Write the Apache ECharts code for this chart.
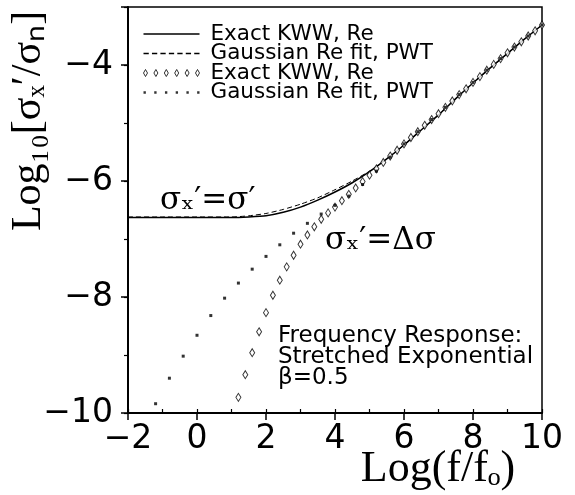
<!DOCTYPE html>
<html><head><meta charset="utf-8">
<script src="https://cdn.jsdelivr.net/npm/echarts/dist/echarts.min.js"></script>
<style>html,body{margin:0;padding:0;background:#fff}#c{width:575px;height:495px}</style>
</head><body><div id="c"></div>
<script>
// ---- data ----
const xLine = [-2, -1, 0, 1, 1.5, 2, 2.5, 3, 3.5, 4, 4.5, 5, 5.5, 6, 6.5, 7, 7.5, 8, 8.5, 9, 9.5, 10];
const exactKwwRe = [-6.63, -6.63, -6.63, -6.63, -6.62, -6.60, -6.54, -6.45, -6.33, -6.19, -6.03, -5.84, -5.62, -5.38, -5.12, -4.86, -4.58, -4.31, -4.05, -3.80, -3.55, -3.31];
const gaussFitRe = [-6.62, -6.62, -6.62, -6.62, -6.60, -6.56, -6.49, -6.40, -6.29, -6.15, -6.00, -5.83, -5.62, -5.38, -5.12, -4.86, -4.58, -4.31, -4.05, -3.80, -3.55, -3.31];

const xDiamond = [1.2, 1.4, 1.6, 1.8, 2.0, 2.2, 2.4, 2.6, 2.8, 3.0, 3.2, 3.4, 3.6, 3.8, 4.0, 4.2, 4.4, 4.6, 4.8, 5.0, 5.2, 5.4, 5.6, 5.8, 6.0, 6.2, 6.4, 6.6, 6.8, 7.0, 7.2, 7.4, 7.6, 7.8, 8.0, 8.2, 8.4, 8.6, 8.8, 9.0, 9.2, 9.4, 9.6, 9.8, 10.0];
const exactKwwDelta = [-9.73, -9.34, -8.96, -8.60, -8.27, -7.97, -7.71, -7.48, -7.28, -7.09, -6.93, -6.79, -6.66, -6.55, -6.45, -6.34, -6.23, -6.12, -6.01, -5.90, -5.79, -5.68, -5.57, -5.47, -5.36, -5.25, -5.15, -5.04, -4.94, -4.84, -4.73, -4.62, -4.51, -4.41, -4.30, -4.20, -4.09, -3.99, -3.89, -3.79, -3.69, -3.60, -3.50, -3.41, -3.31];

const xDot = [-1.2, -0.8, -0.4, 0.0, 0.4, 0.8, 1.2, 1.6, 2.0, 2.4, 2.8, 3.2, 3.6, 4.0, 4.4, 4.8, 5.2, 5.6, 6.0, 6.4, 6.8, 7.2, 7.6, 8.0, 8.4, 8.8, 9.2, 9.6, 10.0];
const gaussFitDelta = [-9.84, -9.40, -9.02, -8.66, -8.32, -8.02, -7.76, -7.52, -7.30, -7.10, -6.90, -6.73, -6.57, -6.42, -6.26, -6.06, -5.83, -5.59, -5.36, -5.15, -4.94, -4.73, -4.51, -4.30, -4.09, -3.89, -3.69, -3.50, -3.31];

const xTickLabels = [-2, 0, 2, 4, 6, 8, 10];
const yTickLabels = [-10, -8, -6, -4];
const legendLabels = ['Exact KWW, Re', 'Gaussian Re fit, PWT', 'Exact KWW, Re', 'Gaussian Re fit, PWT'];
const seriesIds = ['kwwLine', 'gaussLine', 'kwwDiamond', 'gaussDot'];

// ---- chart ----
const pairs = (xs, ys) => xs.map((x, i) => [x, ys[i]]);
const fmt = v => (v < 0 ? '\u2212' : '') + Math.abs(v);

function dashPath() {
  let p = '';
  for (let x = 0; x <= 48; x += 8) p += 'M' + x + ',0h5v1.2h-5z';
  return 'path://' + p;
}
function diamondPath() {
  let p = '';
  for (let k = 0; k < 6; k++) { const c = 2 + k * 10.4; p += 'M' + (c - 2) + ',3.5L' + c + ',0L' + (c + 2) + ',3.5L' + c + ',7Z'; }
  return 'path://' + p;
}
function dotPath() {
  let p = '';
  for (let k = 0; k < 6; k++) { const c = 2 + k * 10; p += 'M' + c + ',0h2.2v2.2h-2.2z'; }
  return 'path://' + p;
}

const chart = echarts.init(document.getElementById('c'), null, {renderer: 'canvas'});
const tickFont = 'DejaVu Sans';
chart.setOption({
  animation: false,
  backgroundColor: '#fff',
  grid: {left: 128, right: 33, top: 7, bottom: 82, containLabel: false, outerBoundsMode: 'none',
    show: true, borderColor: '#000', borderWidth: 1.5, backgroundColor: 'transparent'},
  legend: {
    orient: 'vertical', left: 138, top: 18, itemGap: -2.5, itemWidth: 56, itemHeight: 8,
    selectedMode: false,
    formatter: n => legendLabels[seriesIds.indexOf(n)],
    textStyle: {fontFamily: 'DejaVu Sans', fontSize: 21.5, color: '#000', lineHeight: 19.5, padding: [0, 0, 0, 6]},
    data: [
      {name: 'kwwLine', icon: 'path://M0,0h56v1.5h-56z', itemStyle: {color: '#000', borderWidth: 0}},
      {name: 'gaussLine', icon: dashPath(), itemStyle: {color: '#000', borderWidth: 0}},
      {name: 'kwwDiamond', icon: diamondPath(), itemStyle: {color: '#fff', borderColor: '#000', borderWidth: 1}},
      {name: 'gaussDot', icon: dotPath(), itemStyle: {color: '#000', borderWidth: 0}}
    ]
  },
  xAxis: [{
    type: 'value', min: -2, max: 10, interval: 2,
    name: 'Log(f/f\u2092)', nameLocation: 'middle', nameGap: 34, nameMoveOverlap: false,
    nameTextStyle: {fontFamily: 'Liberation Serif', fontSize: 44, color: '#000', padding: [0, 0, 0, 206]},
    axisLine: {show: true, onZero: false, lineStyle: {color: '#000', width: 2}},
    axisTick: {show: true, inside: false, length: 7, lineStyle: {color: '#000', width: 1.5}},
    axisLabel: {fontFamily: tickFont, fontSize: 33, color: '#000', margin: 10,
      formatter: v => xTickLabels.indexOf(v) >= 0 ? fmt(v) : ''},
    splitLine: {show: false}
  }, {
    type: 'value', min: -2, max: 10, interval: 1, position: 'bottom',
    axisLine: {show: false, onZero: false}, axisLabel: {show: false}, splitLine: {show: false},
    axisTick: {show: true, inside: true, length: 4, lineStyle: {color: '#000', width: 1.2}}
  }],
  yAxis: [{
    type: 'value', min: -10, max: -3, interval: 2,
    name: 'Log\u2081\u2080[\u03c3\u2093\u2032/\u03c3\u2099]', nameLocation: 'middle', nameGap: 78, nameRotate: 90, nameMoveOverlap: false,
    nameTextStyle: {fontFamily: 'Liberation Serif', fontSize: 42, color: '#000', padding: [0, 0, 0, 178]},
    axisLine: {show: true, onZero: false, lineStyle: {color: '#000', width: 2}},
    axisTick: {show: true, inside: false, length: 7, lineStyle: {color: '#000', width: 1.5}},
    axisLabel: {fontFamily: tickFont, fontSize: 33, color: '#000', margin: 15,
      formatter: v => yTickLabels.indexOf(v) >= 0 ? fmt(v) : ''},
    splitLine: {show: false}
  }, {
    type: 'value', min: -10, max: -3, interval: 1, position: 'left',
    axisLine: {show: false, onZero: false}, axisLabel: {show: false}, splitLine: {show: false},
    axisTick: {show: true, inside: false, length: 4, lineStyle: {color: '#000', width: 1.2}}
  }],
  series: [
    {name: 'kwwLine', type: 'line', data: pairs(xLine, exactKwwRe), symbol: 'none', smooth: 0.2,
      lineStyle: {color: '#000', width: 1.5}, itemStyle: {color: '#000'}, z: 3},
    {name: 'gaussLine', type: 'line', data: pairs(xLine, gaussFitRe), symbol: 'none', smooth: 0.2,
      lineStyle: {color: '#000', width: 1, type: [5, 3]}, itemStyle: {color: '#000'}, z: 3},
    {name: 'kwwDiamond', type: 'scatter', data: pairs(xDiamond, exactKwwDelta), symbol: 'diamond', symbolSize: [5, 8],
      itemStyle: {color: '#fff', borderColor: '#000', borderWidth: 1}, z: 4},
    {name: 'gaussDot', type: 'scatter', data: pairs(xDot, gaussFitDelta), symbol: 'rect', symbolSize: 3,
      itemStyle: {color: '#000'}, z: 5}
  ],
  graphic: [
    {type: 'text', left: 160, top: 185, z: 10,
      style: {text: '\u03c3\u2093\u2032=\u03c3\u2032', font: '31px "DejaVu Serif"', fill: '#000'}},
    {type: 'text', left: 325, top: 225, z: 10,
      style: {text: '\u03c3\u2093\u2032=\u0394\u03c3', font: '31px "DejaVu Serif"', fill: '#000'}},
    {type: 'text', left: 278, top: 325, z: 10,
      style: {text: 'Frequency Response:\nStretched Exponential\n\u03b2=0.5', font: '23px "DejaVu Sans"', fill: '#000', align: 'center', lineHeight: 21}}
  ]
});
</script></body></html>
